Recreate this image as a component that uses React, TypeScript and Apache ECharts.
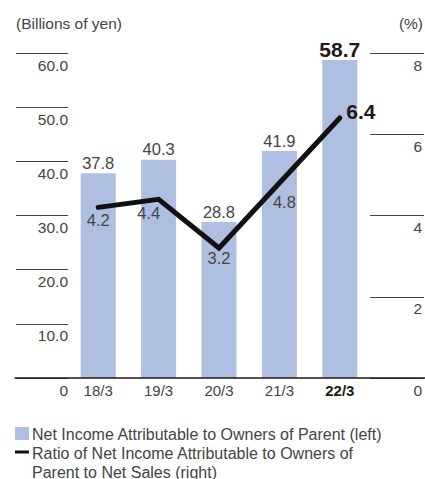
import React, { useEffect, useRef } from "react";
import * as echarts from "echarts";

const categories = ["18/3", "19/3", "20/3", "21/3", "22/3"];
const netIncome = [37.8, 40.3, 28.8, 41.9, 58.7];
const ratio = [4.2, 4.4, 3.2, 4.8, 6.4];
const ratioLabelOffsets = [[0, -1], [-10, 0], [0, -4], [5, 5]];
const leftTicks = { min: 0, max: 60, interval: 10 };
const rightTicks = { min: 0, max: 8, interval: 2 };
const legendBar = "Net Income Attributable to Owners of Parent (left)";
const legendLine = "Ratio of Net Income Attributable to Owners of\nParent to Net Sales (right)";

const FONT = "'Liberation Sans', Arial, Helvetica, sans-serif";
const TEXT = "#444444";
const DARK = "#231815";
const BAR = "#afbfe2";

export default function App() {
  const ref = useRef<HTMLDivElement>(null);
  useEffect(() => {
    document.body.style.margin = "0";
    if (!ref.current) return;
    const chart = echarts.init(ref.current, null, { renderer: "svg" });
    const last = netIncome.length - 1;
    chart.setOption({
      animation: false,
      textStyle: { fontFamily: FONT },
      grid: [
        { left: 68, top: 53, width: 303, height: 325 },
        { left: 15, right: 0, top: 53, height: 325 },
      ],
      xAxis: [
        {
          type: "category",
          gridIndex: 0,
          data: categories,
          axisLine: { show: false },
          axisTick: { show: false },
          axisLabel: {
            interval: 0,
            margin: 5,
            fontSize: 15,
            color: TEXT,
            fontFamily: FONT,
            formatter: (v: string, i: number) => (i === last ? `{b|${v}}` : v),
            rich: { b: { fontSize: 15, fontWeight: "bold", color: DARK, fontFamily: FONT } },
          },
        },
        {
          type: "value",
          gridIndex: 1,
          min: 0,
          max: 1,
          z: 10,
          axisLine: { show: true, lineStyle: { color: DARK, width: 1.5 } },
          axisTick: { show: false },
          axisLabel: { show: false },
          splitLine: { show: false },
        },
      ],
      yAxis: [
        {
          type: "value",
          gridIndex: 0,
          position: "left",
          ...leftTicks,
          axisLine: { show: false },
          splitLine: { show: false },
          axisTick: { show: true, length: 52, lineStyle: { color: "#444", width: 1 } },
          axisLabel: {
            margin: 0,
            fontSize: 15.5,
            color: TEXT,
            fontFamily: FONT,
            verticalAlign: "top",
            padding: [4, 0, 0, 0],
            formatter: (v: number) => (v === 0 ? "0" : v.toFixed(1)),
          },
        },
        {
          type: "value",
          gridIndex: 0,
          position: "right",
          ...rightTicks,
          axisLine: { show: false },
          splitLine: { show: false },
          axisTick: { show: true, length: 54, lineStyle: { color: "#444", width: 1 } },
          axisLabel: {
            margin: 52,
            align: "right",
            fontSize: 15.5,
            color: TEXT,
            fontFamily: FONT,
            verticalAlign: "top",
            padding: [4, 0, 0, 0],
          },
        },
        { type: "value", gridIndex: 1, min: 0, max: 1, show: false },
      ],
      series: [
        {
          type: "bar",
          xAxisIndex: 0,
          yAxisIndex: 0,
          barWidth: 35,
          itemStyle: { color: BAR },
          data: netIncome.map((v, i) => ({
            value: v,
            label:
              i === last
                ? { show: true, position: "top", distance: 0, fontSize: 21, fontWeight: "bold", color: DARK, fontFamily: FONT }
                : { show: true, position: "top", distance: 2, fontSize: 16.5, color: TEXT, fontFamily: FONT },
          })),
        },
        {
          type: "line",
          xAxisIndex: 0,
          yAxisIndex: 1,
          symbol: "circle",
          symbolSize: 1,
          itemStyle: { color: "#111" },
          lineStyle: { color: "#111", width: 5, cap: "round", join: "miter" },
          z: 5,
          data: ratio.map((v, i) => ({
            value: v,
            label:
              i === last
                ? { show: true, position: "right", distance: 6, offset: [0, -7], fontSize: 21, fontWeight: "bold", color: DARK, fontFamily: FONT }
                : { show: true, position: "bottom", distance: 5, offset: ratioLabelOffsets[i], fontSize: 16.5, color: TEXT, fontFamily: FONT },
          })),
        },
      ],
      graphic: [
        { type: "text", x: 16, y: 23, style: { text: "(Billions of yen)", fontSize: 15.5, fontFamily: FONT, fill: TEXT, verticalAlign: "middle" } },
        { type: "text", x: 423, y: 23, style: { text: "(%)", fontSize: 15.5, fontFamily: FONT, fill: TEXT, align: "right", verticalAlign: "middle" } },
        { type: "rect", shape: { x: 15, y: 427, width: 14, height: 13 }, style: { fill: BAR } },
        { type: "text", x: 32, y: 434, style: { text: legendBar, fontSize: 16, fontFamily: FONT, fill: TEXT, verticalAlign: "middle" } },
        { type: "rect", shape: { x: 15, y: 450.5, width: 14, height: 3 }, style: { fill: "#111" } },
        { type: "text", x: 32, y: 443.5, style: { text: legendLine, fontSize: 16, lineHeight: 19, fontFamily: FONT, fill: TEXT, verticalAlign: "top" } },
      ],
    });
    return () => chart.dispose();
  }, []);
  return <div ref={ref} style={{ width: 425, height: 479 }} />;
}
